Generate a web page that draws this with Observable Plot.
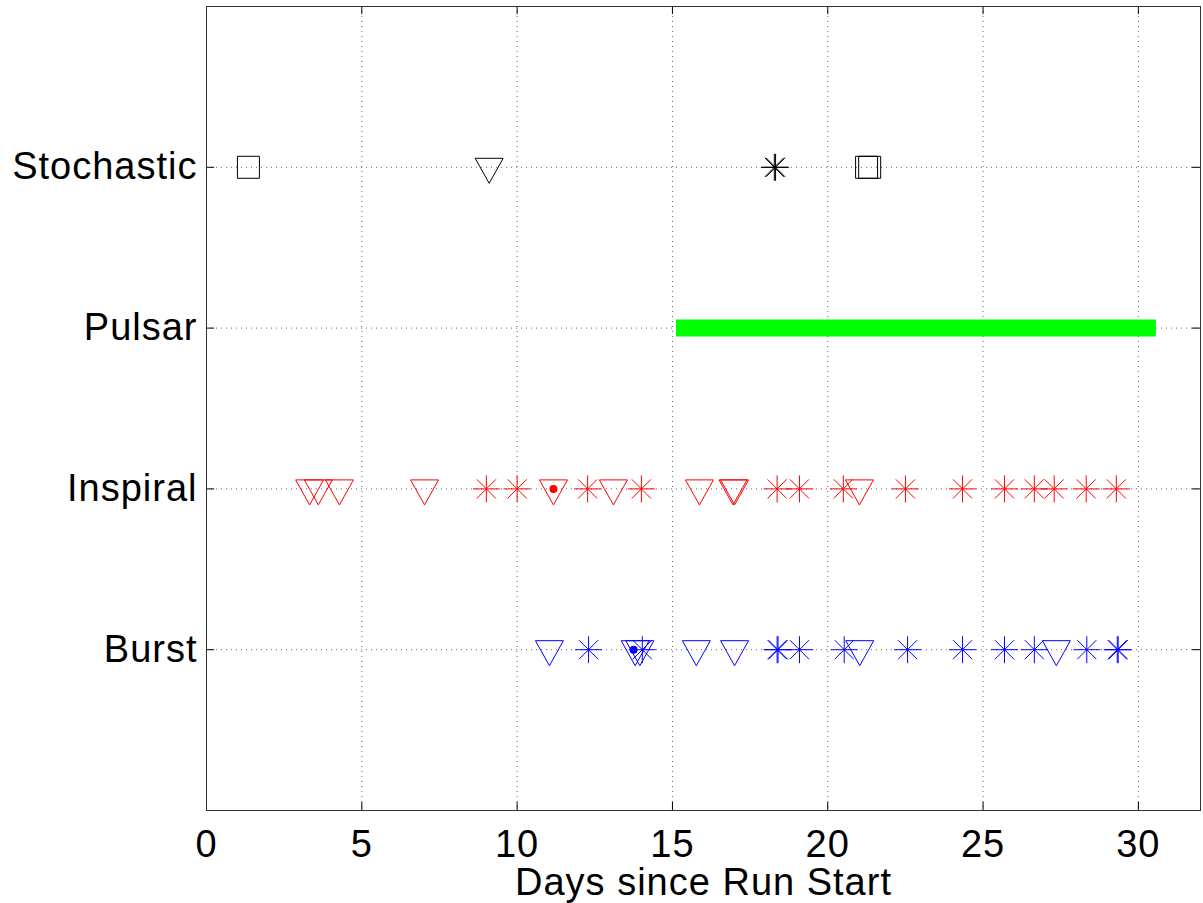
<!DOCTYPE html>
<html>
<head>
<meta charset="utf-8">
<script src="https://cdn.jsdelivr.net/npm/d3@7"></script>
<script src="https://cdn.jsdelivr.net/npm/@observablehq/plot@0.6"></script>
<style>
  html, body { margin: 0; padding: 0; background: #fff; }
  #chart { width: 1203px; height: 903px; }
  #chart svg text { letter-spacing: 1px; }
</style>
</head>
<body>
<div id="chart"></div>
<script>
// ---- data ----
const categories = ["Burst", "Inspiral", "Pulsar", "Stochastic"];
const xTicks = [0, 5, 10, 15, 20, 25, 30];
const xLabel = "Days since Run Start";

const stochasticSquares = [1.35, 21.25, 21.35];
const stochasticTriangles = [9.1];
const stochasticStars = [18.28, 18.32];

const inspiralTriangles = [3.32, 3.6, 4.28, 7.02, 11.17, 13.1, 15.87, 16.95, 17.0, 21.02];
const inspiralStars = [9.01, 10.0, 12.27, 14.0, 18.37, 19.09, 20.5, 22.5, 24.34, 25.69, 26.65, 27.29, 28.32, 29.29];
const inspiralDots = [11.17];

const burstTriangles = [11.04, 13.8, 13.95, 15.77, 17.0, 21.03, 27.36];
const burstStars = [12.3, 14.03, 18.37, 18.4, 19.09, 20.53, 22.57, 24.34, 25.69, 26.65, 28.34, 29.32, 29.35];
const burstDots = [13.75];

const pulsarStart = [15.13];
const pulsarEnd = [30.58];

// ---- helpers ----
const yOf = name => categories.indexOf(name) + 1;
const pts = (xs, name) => xs.map(x => ({x, y: yOf(name)}));

const triDown = { draw(ctx) { ctx.moveTo(-14, -9); ctx.lineTo(14, -9); ctx.lineTo(0, 16); ctx.closePath(); } };
const square = { draw(ctx) { ctx.moveTo(-11, -11); ctx.lineTo(11, -11); ctx.lineTo(11, 11); ctx.lineTo(-11, 11); ctx.closePath(); } };
const star = { draw(ctx) {
  const a = 13.5, d = a * 0.7071;
  ctx.moveTo(-a, 0); ctx.lineTo(a, 0);
  ctx.moveTo(0, -a); ctx.lineTo(0, a);
  ctx.moveTo(-d, -d); ctx.lineTo(d, d);
  ctx.moveTo(-d, d); ctx.lineTo(d, -d);
} };

const gridStyle = {stroke: "#000", strokeOpacity: 0.6, strokeDasharray: "1,4", strokeWidth: 1};
const markerStyle = (symbol, color) => ({x: "x", y: "y", symbol, r: 14, stroke: color, fill: "none", strokeWidth: 1});
const yTicks = categories.map((c, i) => i + 1);
const pulsarData = pulsarStart.map((s, i) => ({x1: s, x2: pulsarEnd[i], y: yOf("Pulsar")}));

const chart = Plot.plot({
  width: 1203,
  height: 903,
  marginLeft: 206,
  marginRight: 3,
  marginTop: 6,
  marginBottom: 93,
  style: {fontFamily: "'Liberation Sans', Arial, Helvetica, sans-serif", fontSize: "38px", color: "#000", background: "#fff"},
  x: {domain: [0, 32]},
  y: {domain: [0, 5]},
  marks: [
    // grid
    Plot.ruleX(xTicks.slice(1), gridStyle),
    Plot.ruleY(yTicks, gridStyle),
    // inward ticks
    Plot.ruleX(xTicks, {y1: 0, y2: 0.05, stroke: "#000"}),
    Plot.ruleX(xTicks, {y1: 5, y2: 4.95, stroke: "#000"}),
    Plot.ruleY(yTicks, {x1: 0, x2: 0.26, stroke: "#000"}),
    Plot.ruleY(yTicks, {x1: 32, x2: 31.74, stroke: "#000"}),
    // axes labels
    Plot.axisX({ticks: xTicks, tickSize: 0, tickPadding: 20, fontSize: 38, label: null}),
    Plot.axisY({ticks: yTicks, tickSize: 0, tickPadding: 9, fontSize: 38, label: null, tickFormat: d => categories[d - 1]}),
    Plot.text([xLabel], {frameAnchor: "bottom", lineAnchor: "bottom", dy: 84, fontSize: 38, fill: "#000"}),
    // pulsar bar
    Plot.ruleY(pulsarData, {x1: "x1", x2: "x2", y: "y", stroke: "#00ff00", strokeWidth: 17}),
    // stochastic
    Plot.dot(pts(stochasticSquares, "Stochastic"), markerStyle(square, "#000")),
    Plot.dot(pts(stochasticTriangles, "Stochastic"), markerStyle(triDown, "#000")),
    Plot.dot(pts(stochasticStars, "Stochastic"), markerStyle(star, "#000")),
    // inspiral
    Plot.dot(pts(inspiralTriangles, "Inspiral"), markerStyle(triDown, "#ff0000")),
    Plot.dot(pts(inspiralStars, "Inspiral"), markerStyle(star, "#ff0000")),
    Plot.dot(pts(inspiralDots, "Inspiral"), {x: "x", y: "y", r: 4, fill: "#ff0000", stroke: "none"}),
    // burst
    Plot.dot(pts(burstTriangles, "Burst"), markerStyle(triDown, "#0000ff")),
    Plot.dot(pts(burstStars, "Burst"), markerStyle(star, "#0000ff")),
    Plot.dot(pts(burstDots, "Burst"), {x: "x", y: "y", r: 4, fill: "#0000ff", stroke: "none"}),
    // frame
    Plot.frame({stroke: "#333", strokeWidth: 1})
  ]
});
document.getElementById("chart").appendChild(chart);
</script>
</body>
</html>
